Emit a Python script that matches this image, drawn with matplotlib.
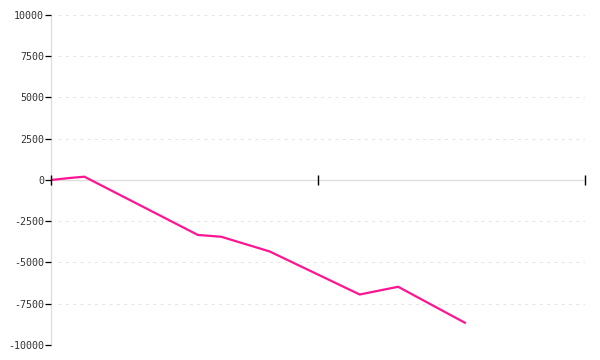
import matplotlib
matplotlib.use('Agg')
import matplotlib.pyplot as plt

# x in months from start, y in units
months = [0, 1.1, 2.0, 8.8, 10.2, 13.1, 18.5, 20.8, 24.8]
values = [0, 120, 200, -3330, -3440, -4330, -6940, -6470, -8650]
yticks = [-10000, -7500, -5000, -2500, 0, 2500, 5000, 7500, 10000]
xticks = [0, 16, 32]


def main():
    fig = plt.figure(figsize=(6, 3.6), dpi=100)
    ax = fig.add_axes([0.085, 0.04167, 0.89, 0.91667])

    ax.set_xlim(0, 32)
    ax.set_ylim(-10000, 10000)

    # dotted grid lines, none at zero
    for v in yticks:
        if v != 0:
            ax.hlines(v, 0.4, 32, colors='#e6e6e6', linewidth=0.75,
                      linestyles=(0, (3, 4)), zorder=1)

    ax.plot(months, values, color='#ff1493', linewidth=1.6, zorder=2.6)

    for side in ['top', 'right']:
        ax.spines[side].set_visible(False)
    ax.spines['left'].set_color('#dddddd')
    ax.spines['left'].set_linewidth(0.9)
    ax.spines['bottom'].set_position(('data', 0))
    ax.spines['bottom'].set_color('#dddddd')
    ax.spines['bottom'].set_linewidth(0.9)
    ax.xaxis.set_zorder(3)
    ax.yaxis.set_zorder(3)

    ax.set_yticks(yticks)
    ax.set_yticklabels([str(v) for v in yticks], family='DejaVu Sans Mono',
                       fontsize=7.2, color='#333333')
    ax.tick_params(axis='y', direction='out', length=4.3, width=0.9,
                   color='black', pad=0.8)

    ax.set_xticks(xticks)
    ax.set_xticklabels([])
    ax.tick_params(axis='x', direction='inout', length=6.8, width=1,
                   color='black')

    plt.savefig('out.png', format='png', dpi=100)


if __name__ == "__main__":
    main()
